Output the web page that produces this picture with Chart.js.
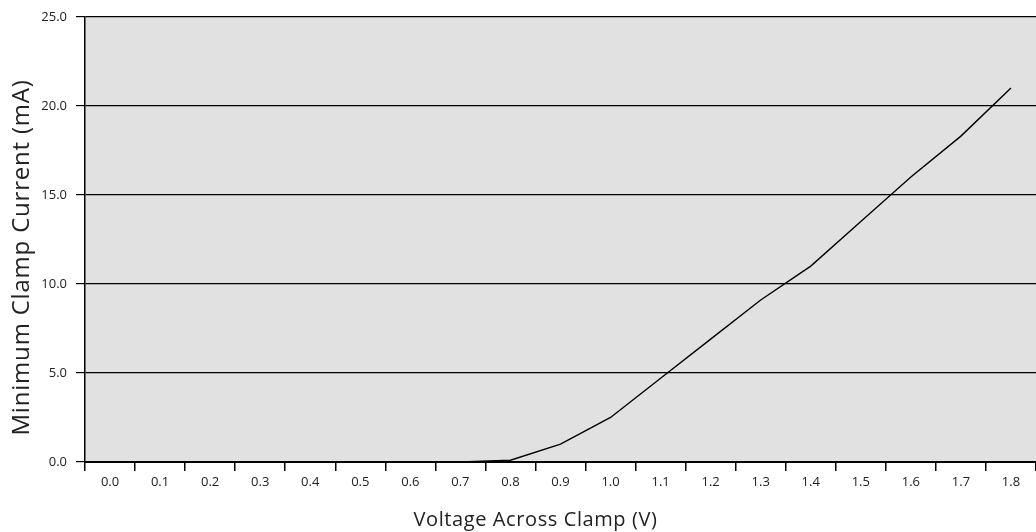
<!DOCTYPE html>
<html>
<head>
<meta charset="utf-8">
<script src="https://cdn.jsdelivr.net/npm/chart.js@4"></script>
<style>
  html, body { margin: 0; padding: 0; background: #fff; }
  #wrap { width: 1036px; height: 532px; }
</style>
</head>
<body>
<div id="wrap"><canvas id="clampChart" width="1036" height="532"></canvas></div>
<script>
// Tension aux bornes (V) et courant minimum (mA)
const voltages = ['0.0', '0.1', '0.2', '0.3', '0.4', '0.5', '0.6', '0.7', '0.8', '0.9',
                  '1.0', '1.1', '1.2', '1.3', '1.4', '1.5', '1.6', '1.7', '1.8'];
const currents = [0, 0, 0, 0, 0, 0, 0, 0, 0.1, 1.0,
                  2.5, 4.7, 6.9, 9.1, 11.0, 13.5, 16.0, 18.3, 21.0];
const yTicks = [0, 5, 10, 15, 20, 25];

const FONT = "'Open Sans', 'Noto Sans', sans-serif";

// fond gris de la zone de tracé
const plotBackground = {
    id: 'plotBackground',
    beforeDraw(chart) {
        const { ctx, chartArea: a } = chart;
        ctx.save();
        ctx.fillStyle = '#e1e1e1';
        ctx.fillRect(a.left, a.top, a.right - a.left, a.bottom - a.top);
        ctx.restore();
    }
};

// titre d'axe un peu plus espacé et légèrement décalé, comme l'original
function tweakTitle(scale, spacing, dx, dy) {
    if (scale._titlePatched) return;
    const orig = scale.drawTitle;
    scale.drawTitle = function () {
        const ctx = this.ctx;
        ctx.save();
        ctx.letterSpacing = spacing;
        ctx.translate(dx, dy);
        orig.call(this);
        ctx.restore();
    };
    scale._titlePatched = true;
}

new Chart(document.getElementById('clampChart'), {
    type: 'line',
    data: {
        labels: voltages,
        datasets: [{
            data: currents,
            borderColor: '#000',
            borderWidth: 1.4,
            pointRadius: 0,
            tension: 0,
            fill: false
        }]
    },
    options: {
        responsive: false,
        animation: false,
        layout: { padding: { top: 15, right: 0, left: 0, bottom: 0 } },
        plugins: {
            legend: { display: false },
            tooltip: { enabled: false }
        },
        scales: {
            x: {
                type: 'category',
                offset: true,
                grid: {
                    offset: true,
                    drawOnChartArea: false,
                    drawTicks: true,
                    tickLength: 9,
                    color: '#000',
                    lineWidth: 1.5
                },
                border: { display: true, color: '#000', width: 2 },
                ticks: {
                    color: '#222',
                    font: { family: FONT, size: 13 },
                    padding: 3,
                    maxRotation: 0,
                    autoSkip: false
                },
                title: {
                    display: true,
                    text: 'Voltage Across Clamp (V)',
                    color: '#222',
                    font: { family: FONT, size: 20 },
                    padding: { top: 0, bottom: 0 }
                },
                afterFit(scale) {
                    scale.height = 70;
                    tweakTitle(scale, '0.6px', -25, 0);
                }
            },
            y: {
                min: 0,
                max: 25,
                afterBuildTicks(scale) {
                    scale.ticks = yTicks.map(v => ({ value: v }));
                },
                grid: {
                    color: '#000',
                    lineWidth: 1.2,
                    tickLength: 9
                },
                border: { display: true, color: '#000', width: 1.5 },
                ticks: {
                    color: '#222',
                    font: { family: FONT, size: 13 },
                    padding: 9,
                    callback: v => Number(v).toFixed(1)
                },
                title: {
                    display: true,
                    text: 'Minimum Clamp Current (mA)',
                    color: '#222',
                    font: { family: FONT, size: 24 },
                    padding: { top: 0, bottom: 0 }
                },
                afterFit(scale) {
                    scale.width = 85;
                    tweakTitle(scale, '0.8px', 8, 18);
                }
            }
        }
    },
    plugins: [plotBackground]
});
</script>
</body>
</html>
